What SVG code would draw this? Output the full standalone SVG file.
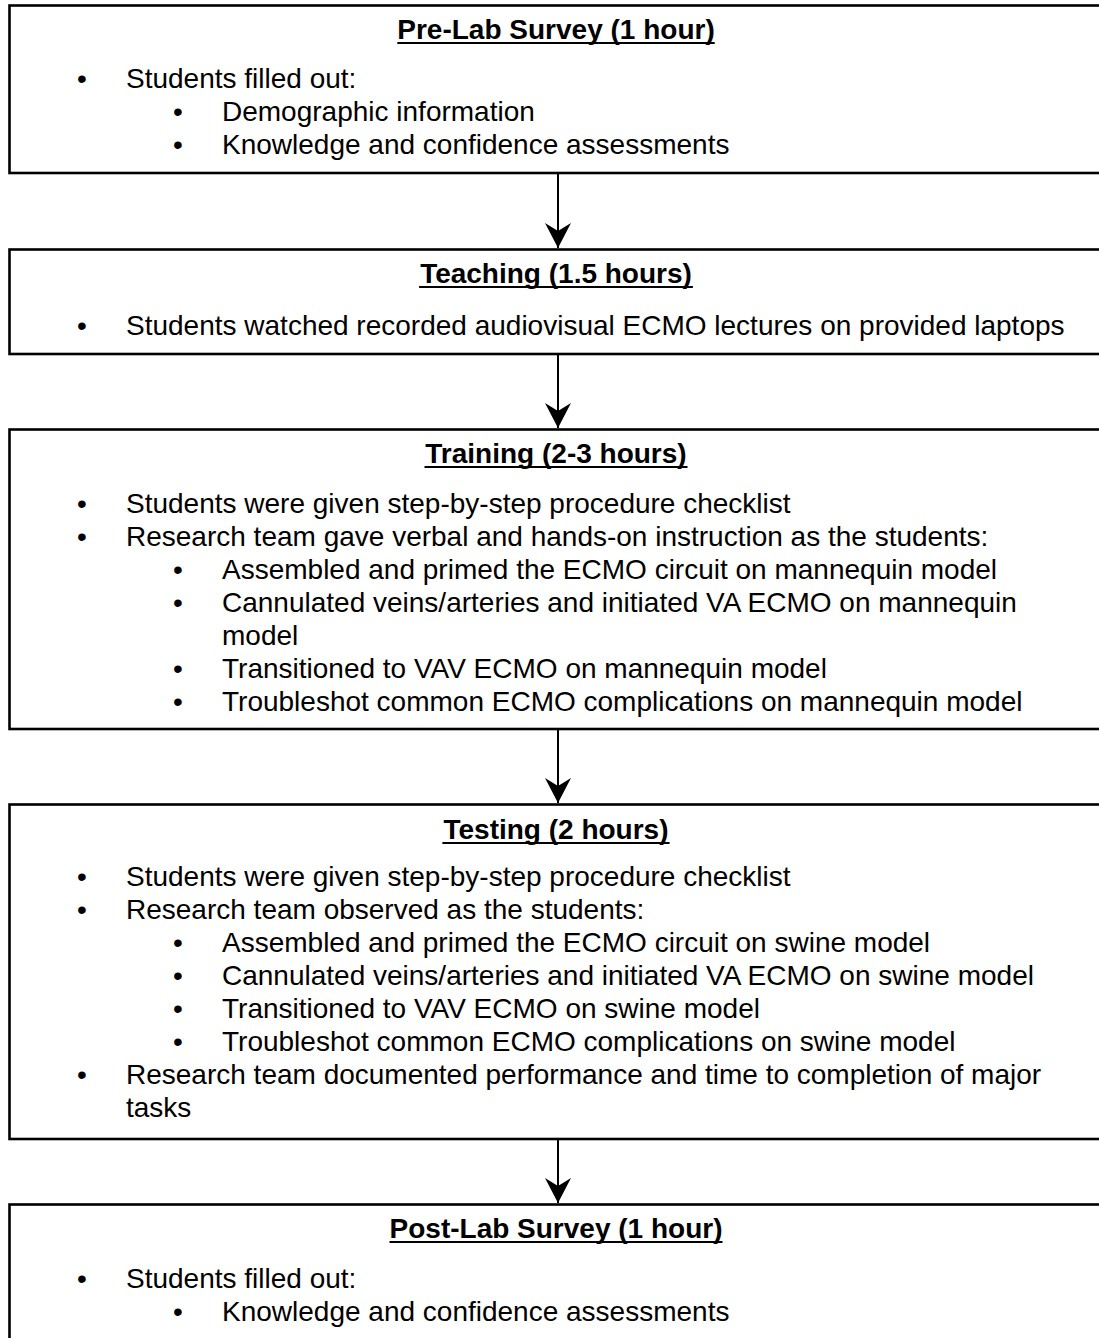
<svg xmlns="http://www.w3.org/2000/svg" width="1099" height="1338" viewBox="0 0 1099 1338">
<style>
.box{fill:#fff;stroke:#000;stroke-width:2.6}
.t{font-family:"Liberation Sans",Arial,sans-serif;font-size:28px;fill:#000}
.h{font-weight:bold;text-anchor:middle}
.ul{stroke:#000;stroke-width:2.2}
.conn{stroke:#000;stroke-width:2;fill:none}
</style>
<defs>
<marker id="ah" markerWidth="26" markerHeight="26" viewBox="0 0 26 26" refX="25" refY="13" orient="auto" markerUnits="userSpaceOnUse">
<path d="M0,0 L25,13 L0,26 L8,13 Z" fill="#000"/>
</marker>
</defs>
<rect width="1099" height="1338" fill="#fff"/>
<g id="connectors">
<line class="conn" x1="558" y1="174" x2="558" y2="248" marker-end="url(#ah)"/>
<line class="conn" x1="558" y1="355" x2="558" y2="428" marker-end="url(#ah)"/>
<line class="conn" x1="558" y1="730" x2="558" y2="803" marker-end="url(#ah)"/>
<line class="conn" x1="558" y1="1140" x2="558" y2="1203" marker-end="url(#ah)"/>
</g>
<g id="prelab">
<rect class="box" x="9.5" y="5.5" width="1100" height="167.5"/>
<text class="t h" x="556" y="39">Pre-Lab Survey (1 hour)</text>
<line class="ul" x1="397.3" y1="43" x2="714.7" y2="43"/>
<text class="t" x="77" y="88">•</text><text class="t" x="126" y="88">Students filled out:</text>
<text class="t" x="173" y="121">•</text><text class="t" x="222" y="121">Demographic information</text>
<text class="t" x="173" y="154">•</text><text class="t" x="222" y="154">Knowledge and confidence assessments</text>
</g>
<g id="teaching">
<rect class="box" x="9.5" y="249.5" width="1100" height="104.5"/>
<text class="t h" x="556" y="283">Teaching (1.5 hours)</text>
<line class="ul" x1="419.1" y1="287" x2="692.9" y2="287"/>
<text class="t" x="77" y="335">•</text><text class="t" x="126" y="335">Students watched recorded audiovisual ECMO lectures on provided laptops</text>
</g>
<g id="training">
<rect class="box" x="9.5" y="429.5" width="1100" height="299.5"/>
<text class="t h" x="556" y="463">Training (2-3 hours)</text>
<line class="ul" x1="424.5" y1="467" x2="687.5" y2="467"/>
<text class="t" x="77" y="513">•</text><text class="t" x="126" y="513">Students were given step-by-step procedure checklist</text>
<text class="t" x="77" y="546">•</text><text class="t" x="126" y="546">Research team gave verbal and hands-on instruction as the students:</text>
<text class="t" x="173" y="579">•</text><text class="t" x="222" y="579">Assembled and primed the ECMO circuit on mannequin model</text>
<text class="t" x="173" y="612">•</text><text class="t" x="222" y="612">Cannulated veins/arteries and initiated VA ECMO on mannequin</text>
<text class="t" x="222" y="645">model</text>
<text class="t" x="173" y="678">•</text><text class="t" x="222" y="678">Transitioned to VAV ECMO on mannequin model</text>
<text class="t" x="173" y="711">•</text><text class="t" x="222" y="711">Troubleshot common ECMO complications on mannequin model</text>
</g>
<g id="testing">
<rect class="box" x="9.5" y="804.5" width="1100" height="334.5"/>
<text class="t h" x="556" y="839">Testing (2 hours)</text>
<line class="ul" x1="442.4" y1="843" x2="669.6" y2="843"/>
<text class="t" x="77" y="886">•</text><text class="t" x="126" y="886">Students were given step-by-step procedure checklist</text>
<text class="t" x="77" y="919">•</text><text class="t" x="126" y="919">Research team observed as the students:</text>
<text class="t" x="173" y="952">•</text><text class="t" x="222" y="952">Assembled and primed the ECMO circuit on swine model</text>
<text class="t" x="173" y="985">•</text><text class="t" x="222" y="985">Cannulated veins/arteries and initiated VA ECMO on swine model</text>
<text class="t" x="173" y="1018">•</text><text class="t" x="222" y="1018">Transitioned to VAV ECMO on swine model</text>
<text class="t" x="173" y="1051">•</text><text class="t" x="222" y="1051">Troubleshot common ECMO complications on swine model</text>
<text class="t" x="77" y="1084">•</text><text class="t" x="126" y="1084">Research team documented performance and time to completion of major</text>
<text class="t" x="126" y="1117">tasks</text>
</g>
<g id="postlab">
<rect class="box" x="9.5" y="1204.5" width="1100" height="150"/>
<text class="t h" x="556" y="1238">Post-Lab Survey (1 hour)</text>
<line class="ul" x1="389.5" y1="1242" x2="722.5" y2="1242"/>
<text class="t" x="77" y="1288">•</text><text class="t" x="126" y="1288">Students filled out:</text>
<text class="t" x="173" y="1321">•</text><text class="t" x="222" y="1321">Knowledge and confidence assessments</text>
</g>
</svg>
